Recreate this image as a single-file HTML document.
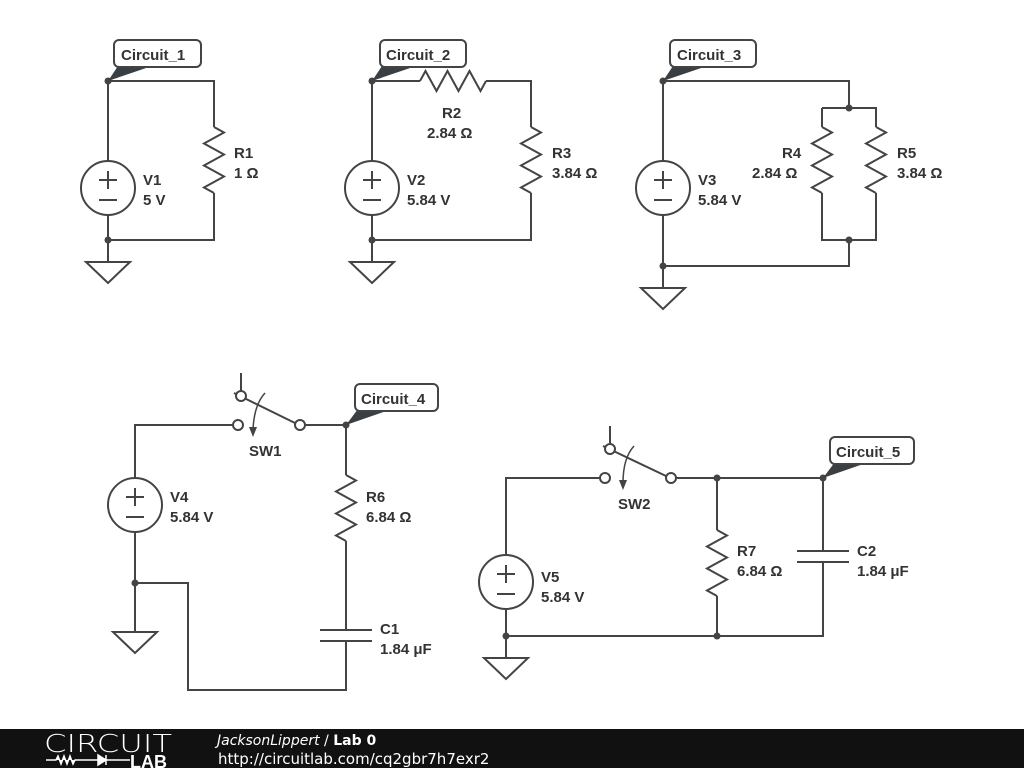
<!DOCTYPE html>
<html><head><meta charset="utf-8"><style>
html,body{margin:0;padding:0;background:#fff;}
svg{display:block;}
.lb{font-family:'Liberation Sans',Arial,Helvetica,sans-serif;font-weight:bold;font-size:15px;fill:#333;}
</style></head><body>
<svg width="1024" height="768" viewBox="0 0 1024 768" xmlns="http://www.w3.org/2000/svg">
<defs>
<path id="res" d="M0,0 L10,5.5 L-10,16.5 L10,27.5 L-10,38.5 L10,49.5 L-10,60.5 L0,66" fill="none" stroke="#444" stroke-width="2"/>
<g id="vs"><circle cx="0" cy="0" r="27" fill="#fff" stroke="#444" stroke-width="2"/>
<path d="M-9,-8 H9 M0,-17 V1 M-9,12 H9" stroke="#444" stroke-width="2"/></g>
<g id="gnd"><path d="M0,0 V22 M-22,22 H22 L0,43 Z" fill="none" stroke="#444" stroke-width="2" stroke-linejoin="miter"/></g>
</defs>
<g fill="none" stroke="#444" stroke-width="2">
<path d="M108,161 V81 H214 V127 M214,193 V240 H108 V215"/>
<path d="M372,161 V81 H420 M486,81 H531 V127 M531,193 V240 H372 V215"/>
<path d="M663,161 V81 H849 V108 M822,108 H876 V127 M822,108 V127 M822,193 V240 H876 V193 M849,240 V266 H663 V215"/>
<path d="M135,478 V425 H233 M305,425 H346 V475 M346,541 V630 M346,641 V690 H188 V583 H135 V532"/>
<path d="M320,630 H372 M320,641 H372"/>
<path d="M241,373 V391 M234,393 L295,423"/>
<path d="M506,555 V478 H600 M676,478 H823 V551 M823,562 V636 H506 V609 M717,478 V530 M717,596 V636"/>
<path d="M797,551 H849 M797,562 H849"/>
<path d="M610,426 V444 M603,446 L666,476"/>
<path d="M135,583 V632 M113,632 H157 L135,653 Z"/>
</g>
<path d="M265,393 Q254,405 253,430" fill="none" stroke="#444" stroke-width="1.5"/>
<path d="M249,427 L253,437 L257,427 Z" fill="#444"/>
<path d="M634,446 Q623,458 623,483" fill="none" stroke="#444" stroke-width="1.5"/>
<path d="M619,480 L623,490 L627,480 Z" fill="#444"/>
<g fill="#fff" stroke="#444" stroke-width="2">
<circle cx="238" cy="425" r="5"/><circle cx="300" cy="425" r="5"/><circle cx="241" cy="396" r="5"/>
<circle cx="605" cy="478" r="5"/><circle cx="671" cy="478" r="5"/><circle cx="610" cy="449" r="5"/>
</g>
<use href="#res" x="214" y="127"/>
<use href="#res" x="531" y="127"/>
<use href="#res" transform="translate(420,81) rotate(-90)"/>
<use href="#res" x="822" y="127"/>
<use href="#res" x="876" y="127"/>
<use href="#res" x="346" y="475"/>
<use href="#res" x="717" y="530"/>
<use href="#vs" x="108" y="188"/>
<use href="#vs" x="372" y="188"/>
<use href="#vs" x="663" y="188"/>
<use href="#vs" x="135" y="505"/>
<use href="#vs" x="506" y="582"/>
<use href="#gnd" x="108" y="240"/>
<use href="#gnd" x="372" y="240"/>
<use href="#gnd" x="663" y="266"/>
<use href="#gnd" x="506" y="636"/>
<g fill="#444">
<circle cx="108" cy="81" r="3.5"/><circle cx="108" cy="240" r="3.5"/>
<circle cx="372" cy="81" r="3.5"/><circle cx="372" cy="240" r="3.5"/>
<circle cx="663" cy="81" r="3.5"/><circle cx="849" cy="108" r="3.5"/><circle cx="849" cy="240" r="3.5"/><circle cx="663" cy="266" r="3.5"/>
<circle cx="346" cy="425" r="3.5"/><circle cx="135" cy="583" r="3.5"/>
<circle cx="717" cy="478" r="3.5"/><circle cx="823" cy="478" r="3.5"/><circle cx="506" cy="636" r="3.5"/><circle cx="717" cy="636" r="3.5"/>
</g>
<g fill="#3a3f44">
<polygon points="108,81 118,66 152,66"/>
<polygon points="372,81 382,66 416,66"/>
<polygon points="663,81 673,66 707,66"/>
<polygon points="346,425 358,409 392,409"/>
<polygon points="823,478 835,462 869,462"/>
</g>
<g fill="#fff" stroke="#444" stroke-width="2">
<rect x="114" y="40" width="87" height="27" rx="5"/>
<rect x="380" y="40" width="86" height="27" rx="5"/>
<rect x="670" y="40" width="86" height="27" rx="5"/>
<rect x="355" y="384" width="83" height="27" rx="5"/>
<rect x="830" y="437" width="84" height="27" rx="5"/>
</g>
<g class="lb">
<text x="121" y="60">Circuit_1</text>
<text x="386" y="60">Circuit_2</text>
<text x="677" y="60">Circuit_3</text>
<text x="361" y="404">Circuit_4</text>
<text x="836" y="457">Circuit_5</text>
<text x="234" y="158">R1</text><text x="234" y="178">1 Ω</text>
<text x="143" y="185">V1</text><text x="143" y="205">5 V</text>
<text x="442" y="118">R2</text><text x="427" y="138">2.84 Ω</text>
<text x="552" y="158">R3</text><text x="552" y="178">3.84 Ω</text>
<text x="407" y="185">V2</text><text x="407" y="205">5.84 V</text>
<text x="698" y="185">V3</text><text x="698" y="205">5.84 V</text>
<text x="782" y="158">R4</text><text x="752" y="178">2.84 Ω</text>
<text x="897" y="158">R5</text><text x="897" y="178">3.84 Ω</text>
<text x="249" y="456">SW1</text>
<text x="170" y="502">V4</text><text x="170" y="522">5.84 V</text>
<text x="366" y="502">R6</text><text x="366" y="522">6.84 Ω</text>
<text x="380" y="634">C1</text><text x="380" y="654">1.84 μF</text>
<text x="618" y="509">SW2</text>
<text x="541" y="582">V5</text><text x="541" y="602">5.84 V</text>
<text x="737" y="556">R7</text><text x="737" y="576">6.84 Ω</text>
<text x="857" y="556">C2</text><text x="857" y="576">1.84 μF</text>
</g>
<rect x="0" y="729" width="1024" height="39" fill="#111"/>
<text x="44" y="752" font-family="DejaVu Sans, sans-serif" font-size="25" fill="#fff" font-weight="200" textLength="128" lengthAdjust="spacingAndGlyphs">CIRCUIT</text>
<path d="M46,760 H56 L58,756 L61,764 L64,756 L67,764 L70,756 L73,764 L75,760 H98 M98,755 V765 L106,760 Z M106,755 V765 M106,760 H130" stroke="#fff" stroke-width="1.5" fill="#fff"/>
<text x="130" y="768" font-family="Liberation Sans, sans-serif" font-weight="bold" font-size="18" fill="#fff">LAB</text>
<text x="217" y="745" font-family="DejaVu Sans, sans-serif" font-size="14" fill="#fff"><tspan font-style="italic">JacksonLippert</tspan> / <tspan font-weight="bold">Lab 0</tspan></text>
<text x="218" y="764" font-family="DejaVu Sans, sans-serif" font-size="15" fill="#fff">http://circuitlab.com/cq2gbr7h7exr2</text>
</svg>
</body></html>
